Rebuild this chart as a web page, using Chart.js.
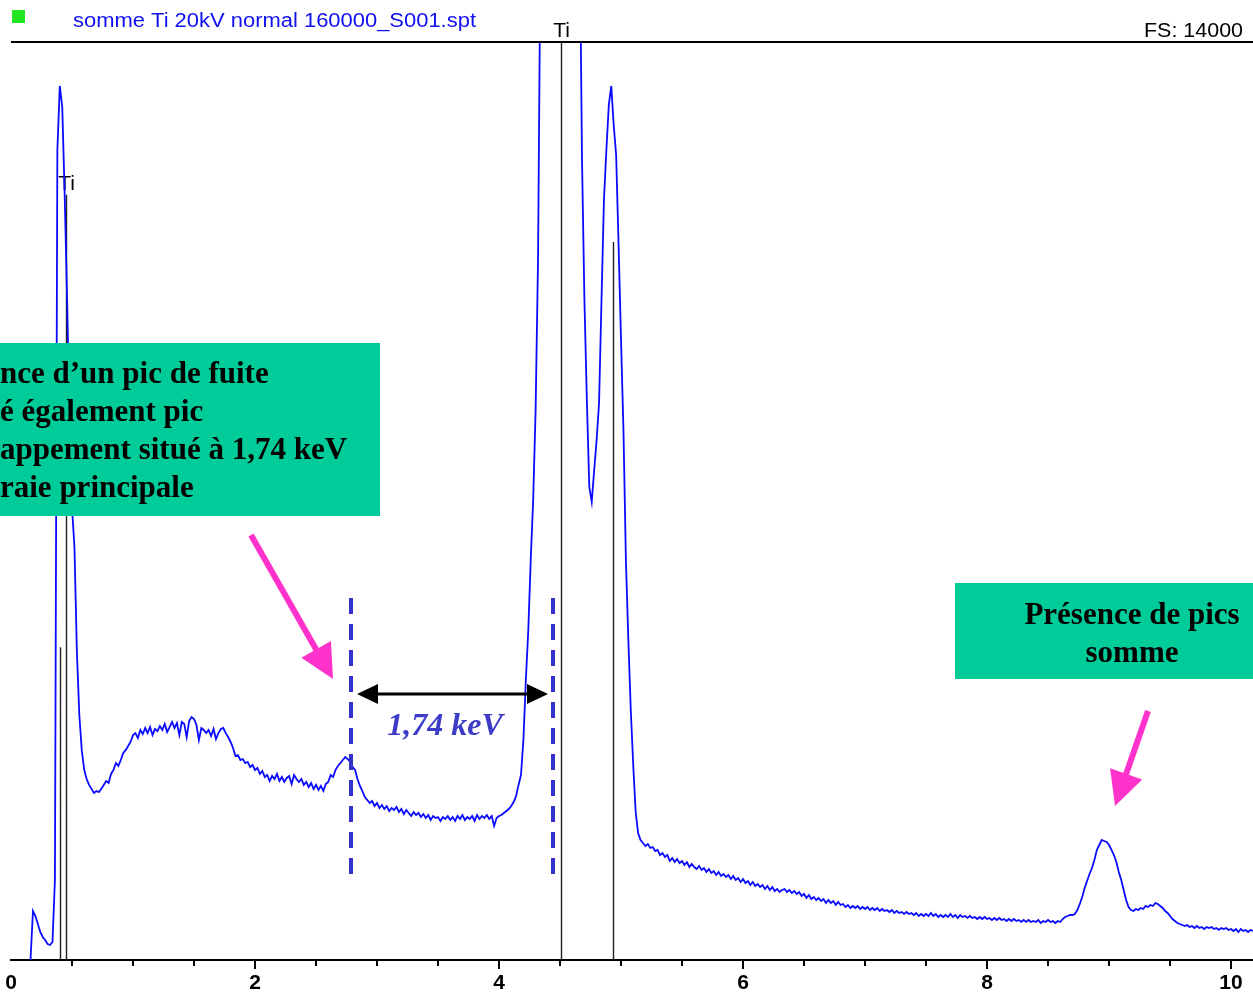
<!DOCTYPE html>
<html>
<head>
<meta charset="utf-8">
<title>somme Ti 20kV normal 160000_S001.spt</title>
<script src="https://cdn.jsdelivr.net/npm/chart.js@4.4.1/dist/chart.umd.min.js"></script>
<style>
  html, body { margin: 0; padding: 0; background: #fff; }
  #wrap { position: relative; width: 1253px; height: 995px; }
</style>
</head>
<body>
<div id="wrap"><canvas id="spectrum" width="1253" height="995"></canvas></div>
<script>
// channel calibration (keV)
const channelStart = 0.16;
const channelWidth = 0.02;

// counts per channel, 0.16 keV .. 10.18 keV, one row = 0.2 keV
const counts = [
  0, 747, 671, 549, 427, 351, 305, 244, 229, 275,
  1220, 12350, 13330, 13010, 11670, 10065, 8235, 6900, 6300, 4700,
  3736, 3200, 2900, 2760, 2670, 2610, 2547, 2577, 2560, 2610,
  2670, 2730, 2700, 2837, 2900, 3005, 2960, 3050, 3157, 3200,
  3264, 3325, 3430, 3460, 3385, 3508, 3447, 3538, 3460, 3553,
  3430, 3523, 3492, 3568, 3508, 3600, 3477, 3553, 3630, 3538,
  3614, 3430, 3630, 3600, 3400, 3645, 3705, 3675, 3584, 3355,
  3538, 3508, 3460, 3508, 3416, 3523, 3370, 3460, 3523, 3538,
  3460, 3400, 3325, 3233, 3111, 3126, 3050, 3065, 3004, 3020,
  2943, 2974, 2898, 2928, 2837, 2883, 2791, 2822, 2730, 2806,
  2760, 2837, 2730, 2791, 2715, 2776, 2806, 2684, 2822, 2760,
  2715, 2760, 2670, 2715, 2638, 2700, 2608, 2670, 2593, 2654,
  2577, 2684, 2715, 2822, 2791, 2898, 2960, 3005, 3050, 3096,
  3065, 3020, 2943, 2898, 2760, 2654, 2577, 2486, 2440, 2394,
  2425, 2348, 2394, 2318, 2364, 2303, 2348, 2272, 2318, 2288,
  2333, 2257, 2303, 2226, 2288, 2242, 2196, 2257, 2211, 2242,
  2180, 2226, 2165, 2211, 2135, 2196, 2165, 2180, 2120, 2180,
  2150, 2196, 2135, 2180, 2120, 2196, 2150, 2211, 2135, 2180,
  2150, 2196, 2120, 2211, 2150, 2196, 2165, 2211, 2150, 2196,
  2044, 2165, 2196, 2211, 2242, 2272, 2303, 2348, 2410, 2501,
  2670, 2822, 3355, 4270, 5033, 6100, 7015, 8390, 10706, 15500,
  21000, 27000, 33000, 37500, 40000, 41000, 40500, 39000, 35500, 31000,
  26500, 22500, 19500, 18000, 17000, 16000, 12230, 10065, 8540, 7213,
  6985, 7473, 7930, 8494, 10065, 11590, 12353, 13040, 13330, 12734,
  12276, 10904, 9455, 8083, 6100, 4880, 3813, 2974, 2257, 1937,
  1830, 1784, 1739, 1769, 1708, 1723, 1662, 1678, 1601, 1632,
  1571, 1601, 1510, 1556, 1494, 1540, 1479, 1510, 1449, 1494,
  1418, 1464, 1418, 1388, 1433, 1373, 1403, 1342, 1388, 1327,
  1357, 1296, 1342, 1281, 1312, 1266, 1296, 1235, 1281, 1220,
  1250, 1190, 1235, 1174, 1205, 1144, 1190, 1129, 1159, 1113,
  1144, 1083, 1129, 1068, 1113, 1052, 1083, 1037, 1068, 1083,
  1037, 1068, 1022, 1052, 1007, 1037, 976, 1007, 946, 991,
  930, 961, 915, 946, 900, 930, 869, 915, 869, 900,
  839, 885, 839, 854, 808, 839, 793, 824, 793, 824,
  778, 808, 778, 808, 763, 793, 763, 793, 747, 778,
  747, 763, 732, 763, 717, 747, 717, 732, 702, 732,
  702, 717, 686, 717, 671, 702, 671, 702, 671, 717,
  671, 702, 656, 686, 656, 686, 656, 702, 656, 686,
  641, 686, 656, 671, 641, 671, 641, 656, 625, 656,
  625, 656, 625, 641, 610, 641, 610, 641, 610, 625,
  595, 625, 595, 625, 595, 610, 580, 610, 580, 610,
  580, 595, 580, 610, 564, 595, 580, 610, 580, 595,
  564, 595, 580, 625, 656, 671, 686, 686, 702, 763,
  854, 961, 1098, 1205, 1312, 1403, 1525, 1678, 1754, 1830,
  1815, 1800, 1754, 1678, 1601, 1494, 1342, 1220, 1068, 915,
  808, 763, 747, 778, 763, 793, 778, 824, 808, 839,
  824, 869, 854, 824, 793, 747, 717, 671, 625, 595,
  564, 549, 534, 519, 534, 503, 519, 488, 519, 488,
  503, 473, 503, 488, 503, 473, 488, 458, 488, 473,
  488, 458, 473, 442, 473, 427, 473, 442, 458, 427,
  458, 442
];

// KLM markers for Ti (Ll, La, Ka, Kb)
const markerEnergies = [0.40, 0.451, 4.508, 4.934];
const markerHeights = [4770, 11670, 14000, 10950];
const markerLabels = ['', 'Ti', 'Ti', ''];

const xTicks = [0, 2, 4, 6, 8, 10];
const fullScale = 14000;
const energyMax = 10.18;

// escape peak and Ti Ka guides
const guideEnergies = [2.787, 4.443];

const points = counts.map((c, i) => ({ x: channelStart + i * channelWidth, y: c }));

function fitText(ctx, text, x, y, width, align) {
  const k = width / ctx.measureText(text).width;
  ctx.save();
  ctx.translate(x, y);
  ctx.scale(k, 1);
  ctx.textAlign = align;
  ctx.fillText(text, 0, 0);
  ctx.restore();
}

function drawArrow(ctx, x1, y1, x2, y2, shaft, headLen, headHalf, color) {
  const len = Math.hypot(x2 - x1, y2 - y1);
  const ux = (x2 - x1) / len, uy = (y2 - y1) / len;
  const bx = x2 - ux * headLen, by = y2 - uy * headLen;
  ctx.save();
  ctx.strokeStyle = color;
  ctx.fillStyle = color;
  ctx.lineWidth = shaft;
  ctx.beginPath();
  ctx.moveTo(x1, y1);
  ctx.lineTo(bx + ux * 2, by + uy * 2);
  ctx.stroke();
  ctx.beginPath();
  ctx.moveTo(x2, y2);
  ctx.lineTo(bx - uy * headHalf, by + ux * headHalf);
  ctx.lineTo(bx + uy * headHalf, by - ux * headHalf);
  ctx.closePath();
  ctx.fill();
  ctx.restore();
}

const spectrumDecor = {
  id: 'spectrumDecor',
  beforeDatasetsDraw(chart) {
    const { ctx, chartArea, scales: { x, y } } = chart;
    ctx.save();
    // minor/major ticks every 0.5 keV
    ctx.strokeStyle = '#000';
    ctx.lineWidth = 2;
    for (let e = 0.5; e <= energyMax; e += 0.5) {
      const px = Math.round(x.getPixelForValue(e));
      const major = Math.abs(e / 2 - Math.round(e / 2)) < 1e-6;
      ctx.beginPath();
      ctx.moveTo(px, chartArea.bottom);
      ctx.lineTo(px, chartArea.bottom + (major ? 9 : 6));
      ctx.stroke();
    }
    // element markers
    ctx.strokeStyle = '#222';
    ctx.lineWidth = 1.4;
    ctx.fillStyle = '#000';
    ctx.font = '21px "Liberation Sans"';
    ctx.textAlign = 'center';
    markerEnergies.forEach((e, i) => {
      const px = Math.round(x.getPixelForValue(e)) + 0.5;
      const top = y.getPixelForValue(markerHeights[i]);
      ctx.beginPath();
      ctx.moveTo(px, y.getPixelForValue(0));
      ctx.lineTo(px, top);
      ctx.stroke();
      if (markerLabels[i]) ctx.fillText(markerLabels[i], px, top - 5);
    });
    ctx.restore();
  },
  afterDraw(chart) {
    const { ctx, chartArea, scales: { x } } = chart;
    ctx.save();

    // header
    ctx.fillStyle = '#22e622';
    ctx.fillRect(12, 10, 13, 13);
    ctx.fillStyle = '#1010f0';
    ctx.font = '20px "Liberation Sans"';
    fitText(ctx, 'somme Ti 20kV normal 160000_S001.spt', 73, 27, 403, 'left');
    ctx.fillStyle = '#000';
    ctx.font = '21px "Liberation Sans"';
    fitText(ctx, 'FS: 14000', 1243, 37, 99, 'right');
    ctx.strokeStyle = '#000';
    ctx.lineWidth = 2;
    ctx.beginPath();
    ctx.moveTo(chartArea.left, chartArea.top);
    ctx.lineTo(chartArea.right, chartArea.top);
    ctx.stroke();

    // callout boxes
    ctx.fillStyle = '#00cc99';
    ctx.fillRect(0, 343, 380, 173);
    ctx.fillRect(955, 583, 298, 96);
    ctx.fillStyle = '#000';
    ctx.font = 'bold 31px "Liberation Serif"';
    ctx.textAlign = 'left';
    ['nce d’un pic de fuite', 'é également pic', 'appement situé à 1,74 keV', 'raie principale']
      .forEach((t, i) => ctx.fillText(t, 0, 383 + i * 38));
    ctx.textAlign = 'center';
    ctx.fillText('Présence de pics', 1132, 624);
    ctx.fillText('somme', 1132, 662);

    // pink arrows
    drawArrow(ctx, 251, 535, 333, 679, 6, 34, 17, '#ff33cc');
    drawArrow(ctx, 1148, 711, 1115, 806, 6, 34, 17, '#ff33cc');

    // dashed guides around the 1,74 keV gap
    ctx.strokeStyle = '#3333cc';
    ctx.lineWidth = 4;
    ctx.setLineDash([16, 10]);
    const gx = guideEnergies.map(e => Math.round(x.getPixelForValue(e)));
    gx.forEach(px => {
      ctx.beginPath();
      ctx.moveTo(px, 598);
      ctx.lineTo(px, 884);
      ctx.stroke();
    });
    ctx.setLineDash([]);

    // double arrow
    const ay = 694, left = gx[0] + 6, right = gx[1] - 5;
    ctx.strokeStyle = '#000';
    ctx.fillStyle = '#000';
    ctx.lineWidth = 3;
    ctx.beginPath();
    ctx.moveTo(left + 15, ay);
    ctx.lineTo(right - 15, ay);
    ctx.stroke();
    ctx.beginPath();
    ctx.moveTo(left, ay); ctx.lineTo(left + 21, ay - 10); ctx.lineTo(left + 21, ay + 10);
    ctx.closePath(); ctx.fill();
    ctx.beginPath();
    ctx.moveTo(right, ay); ctx.lineTo(right - 21, ay - 10); ctx.lineTo(right - 21, ay + 10);
    ctx.closePath(); ctx.fill();

    ctx.fillStyle = '#3c3cc8';
    ctx.font = 'italic bold 32px "Liberation Serif"';
    ctx.textAlign = 'center';
    ctx.fillText('1,74 keV', left + 88, 735);

    ctx.restore();
  }
};

new Chart(document.getElementById('spectrum'), {
  type: 'line',
  data: {
    datasets: [{
      data: points,
      borderColor: '#0a0aff',
      borderWidth: 1.8,
      pointRadius: 0,
      tension: 0,
      fill: false
    }]
  },
  options: {
    responsive: false,
    animation: false,
    devicePixelRatio: 1,
    layout: { padding: { left: 11, top: 42, right: 0, bottom: 0 } },
    plugins: { legend: { display: false }, tooltip: { enabled: false } },
    scales: {
      x: {
        type: 'linear',
        min: 0,
        max: energyMax,
        grid: { display: false },
        border: { display: true, color: '#000', width: 2 },
        afterFit(scale) {
          scale.height = 35;
          scale.paddingLeft = 0;
          scale.paddingRight = 0;
        },
        afterBuildTicks(scale) { scale.ticks = xTicks.map(v => ({ value: v })); },
        ticks: {
          color: '#000',
          font: { family: 'Liberation Sans', size: 21, weight: 'bold' },
          padding: 3,
          maxRotation: 0,
          autoSkip: false
        }
      },
      y: {
        display: false,
        min: 0,
        max: fullScale
      }
    }
  },
  plugins: [spectrumDecor]
});
</script>
</body>
</html>
